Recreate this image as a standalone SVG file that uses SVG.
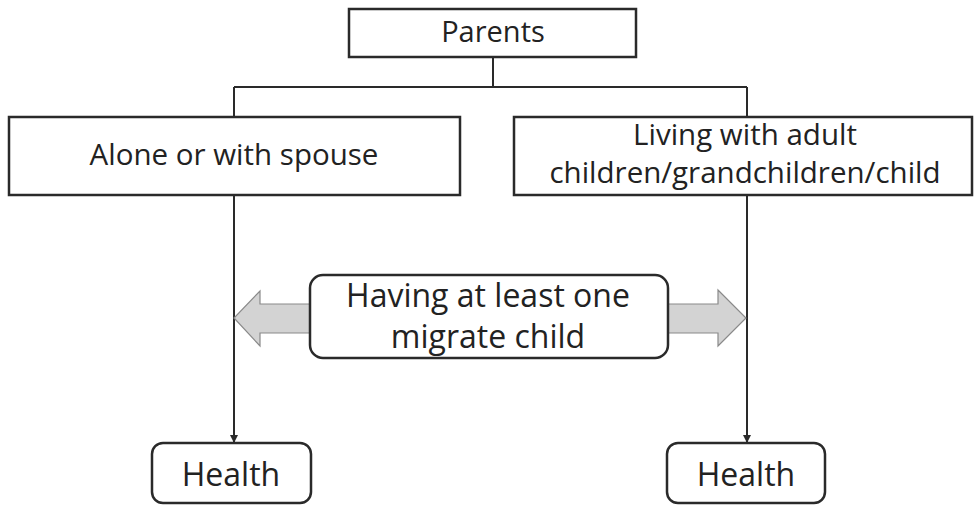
<svg xmlns="http://www.w3.org/2000/svg" width="975" height="506" viewBox="0 0 975 506">
<defs>
<style>
.box{fill:#fff;stroke:#2a2a2a;stroke-width:2.5}
.t{font-family:"Open Sans","Noto Sans",sans-serif;fill:#222;text-anchor:middle}
.ln{fill:none;stroke:#2a2a2a;stroke-width:2}
.fat{fill:#d3d3d3;stroke:#8a8a8a;stroke-width:1.2}
</style>
<marker id="ah" markerWidth="8" markerHeight="8" refX="7" refY="4" orient="auto" markerUnits="userSpaceOnUse">
<path d="M0,0 L8,4 L0,8 Z" fill="#2a2a2a"/>
</marker>
</defs>
<rect width="975" height="506" fill="#fff"/>
<g id="connectors">
<path class="ln" d="M493,57 V87 M234,87 H747"/>
<path class="ln" d="M234,87 V117 M747,87 V117"/>
<path class="ln" d="M234,195 V442" marker-end="url(#ah)"/>
<path class="ln" d="M747,195 V442" marker-end="url(#ah)"/>
<path class="fat" d="M311,304 H260 V291 L234,318 L260,346 V333 H311 Z"/>
<path class="fat" d="M667,304 H718 V290 L746,318 L718,346 V333 H667 Z"/>
</g>
<g id="parents">
<rect class="box" x="349" y="9" width="287" height="48"/>
<text class="t" x="493" y="42" font-size="29">Parents</text>
</g>
<g id="alone">
<rect class="box" x="9" y="117" width="451" height="78"/>
<text class="t" x="234" y="165" font-size="29.5">Alone or with spouse</text>
</g>
<g id="living">
<rect class="box" x="514" y="117" width="458" height="78"/>
<text class="t" x="745" y="145" font-size="29.5">Living with adult</text>
<text class="t" x="745" y="183" font-size="29.5">children/grandchildren/child</text>
</g>
<g id="migrate">
<rect class="box" x="310" y="275" width="358" height="83" rx="13"/>
<text class="t" x="488" y="307" font-size="32">Having at least one</text>
<text class="t" x="488" y="348" font-size="32">migrate child</text>
</g>
<g id="health1">
<rect class="box" x="152" y="443" width="159" height="60" rx="11"/>
<text class="t" x="231" y="486" font-size="32">Health</text>
</g>
<g id="health2">
<rect class="box" x="667" y="443" width="158" height="60" rx="11"/>
<text class="t" x="746" y="486" font-size="32">Health</text>
</g>
</svg>
